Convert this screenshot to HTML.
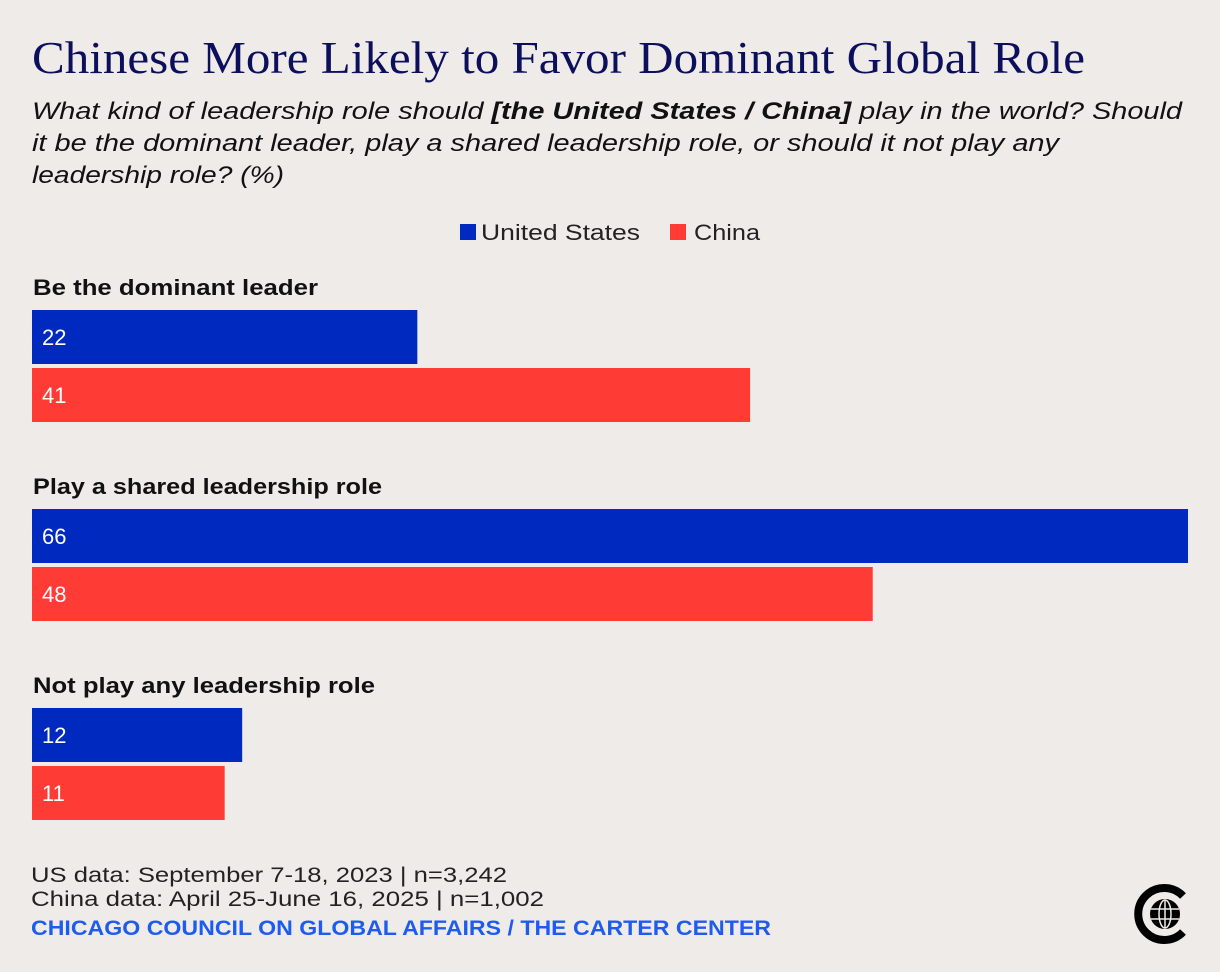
<!DOCTYPE html>
<html><head><meta charset="utf-8"><style>
html,body{margin:0;padding:0;background:#efebe8;}
svg{display:block;font-family:"Liberation Sans",sans-serif;}
</style></head><body>
<svg width="1220" height="972" viewBox="0 0 1220 972">
<rect width="1220" height="972" fill="#efebe8"/>
<text x="32" y="73" font-family="Liberation Serif, serif" font-size="46" fill="#0b0f5c" textLength="1053" lengthAdjust="spacingAndGlyphs">Chinese More Likely to Favor Dominant Global Role</text>
<g font-style="italic" font-size="24" fill="#111">
<text x="32" y="119" textLength="1150" lengthAdjust="spacingAndGlyphs">What kind of leadership role should <tspan font-weight="bold">[the United States / China]</tspan> play in the world? Should</text>
<text x="32" y="151" textLength="1027" lengthAdjust="spacingAndGlyphs">it be the dominant leader, play a shared leadership role, or should it not play any</text>
<text x="32" y="183" textLength="252" lengthAdjust="spacingAndGlyphs">leadership role? (%)</text>
</g>
<g>
<rect x="460" y="224" width="16" height="16" fill="#0029c0"/>
<text x="481" y="240" font-size="22" fill="#222" textLength="159" lengthAdjust="spacingAndGlyphs">United States</text>
<rect x="670" y="224" width="16" height="16" fill="#ff3b36"/>
<text x="694" y="240" font-size="22" fill="#222" textLength="66" lengthAdjust="spacingAndGlyphs">China</text>
</g>
<g id="bars"></g>
<g font-size="21" fill="#222">
<text x="31" y="882" textLength="476" lengthAdjust="spacingAndGlyphs">US data: September 7-18, 2023 | n=3,242</text>
<text x="31" y="906" textLength="513" lengthAdjust="spacingAndGlyphs">China data: April 25-June 16, 2025 | n=1,002</text>
<text x="31" y="935" font-weight="bold" fill="#1e5cf0" textLength="740" lengthAdjust="spacingAndGlyphs">CHICAGO COUNCIL ON GLOBAL AFFAIRS / THE CARTER CENTER</text>
</g>
<g>
<path d="M1183 896 A26 26 0 1 0 1183 932" fill="none" stroke="#000" stroke-width="8"/>
<circle cx="1165" cy="914" r="15" fill="#000"/>
<g stroke="#efebe8" stroke-width="1.5" fill="none">
<ellipse cx="1165" cy="914" rx="6" ry="14"/>
<line x1="1151" y1="909" x2="1179" y2="909"/><line x1="1151" y1="919" x2="1179" y2="919"/>
<line x1="1165" y1="900" x2="1165" y2="928"/>
</g>
</g>
</svg>
<script>
const categories = ["Be the dominant leader", "Play a shared leadership role", "Not play any leadership role"];
const usValues = [22, 66, 12];
const chinaValues = [41, 48, 11];
const NS = "http://www.w3.org/2000/svg";
const g = document.getElementById("bars");
const labelWidths = [285, 349, 342];
const x0 = 32, pxPerUnit = 1156 / 66;
const xScale = v => v * pxPerUnit;
const groupY = i => 310 + i * 199;
function mk(tag, attrs) { const e = document.createElementNS(NS, tag); for (const k in attrs) e.setAttribute(k, attrs[k]); return e; }
categories.forEach((c, i) => {
  const y = groupY(i);
  const lab = mk("text", {x: 33, y: y - 15, "font-size": 22, "font-weight": "bold", fill: "#111", textLength: labelWidths[i], lengthAdjust: "spacingAndGlyphs"});
  
  
  lab.textContent = c; g.appendChild(lab);
  [[usValues[i], "#0029c0", "us"], [chinaValues[i], "#ff3b36", "china"]].forEach(([v, col, s], j) => {
    const by = y + j * 58;
    const r = mk("rect", {x: x0, y: by, width: xScale(v), height: 54, fill: col});
    
    
    g.appendChild(r);
    const t = mk("text", {x: x0 + 10, y: by + 35, "font-size": 22, fill: "#fff"});
    
    
    t.textContent = v; g.appendChild(t);
  });
});
</script>
</body></html>
